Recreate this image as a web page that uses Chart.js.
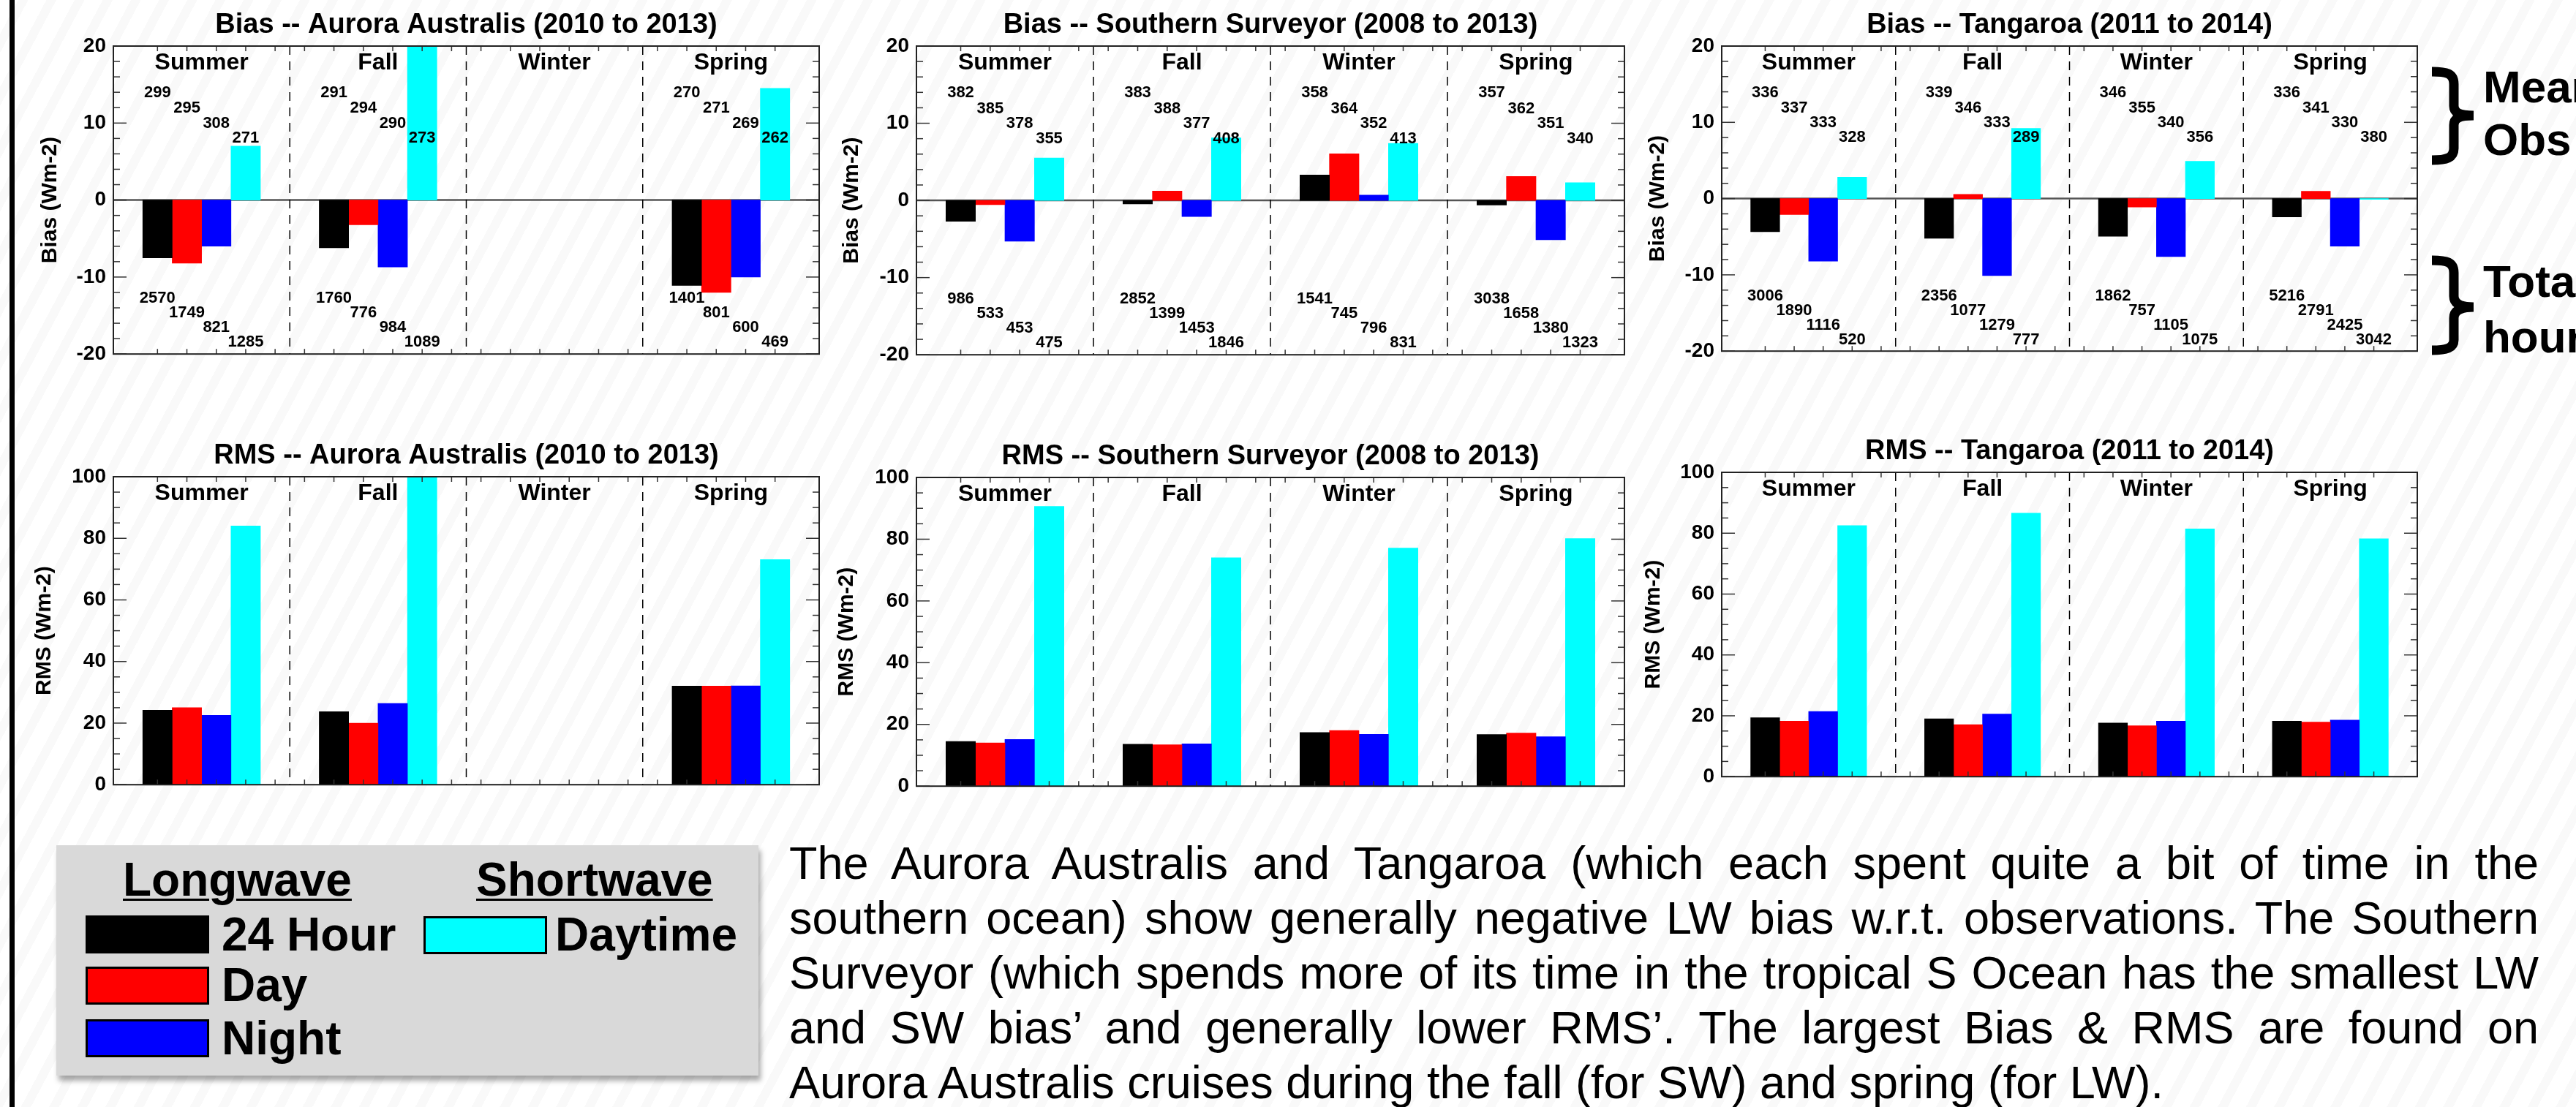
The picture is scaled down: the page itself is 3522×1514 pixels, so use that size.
<!DOCTYPE html>
<html>
<head>
<meta charset="utf-8">
<script src="https://cdn.jsdelivr.net/npm/chart.js@4.4.0/dist/chart.umd.min.js"></script>
<style>
  html, body { margin: 0; padding: 0; }
  body {
    width: 3522px; height: 1514px; overflow: hidden; position: relative;
    font-family: "Liberation Sans", Arial, Helvetica, sans-serif; color: #000;
    background: repeating-linear-gradient(118deg, rgba(0,0,0,0) 0 22px, rgba(0,0,0,0.025) 22px 34px), #fff;
  }
  .edge { position: absolute; left: 13px; top: 0; width: 7px; height: 1514px; background: #000; }
  .panel { position: absolute; }
  .legend {
    position: absolute; left: 77px; top: 1156px; width: 960px; height: 315px;
    background: #d9d9d9; box-shadow: 3px 7px 7px rgba(0,0,0,0.35);
  }
  .legend .hd, .legend .lb { position: absolute; font-weight: bold; font-size: 64px; line-height: 64px; white-space: nowrap; }
  .legend .hd { text-decoration: underline; text-decoration-thickness: 3px; text-underline-offset: 4px; }
  .legend .sw { position: absolute; width: 169px; height: 52px; box-sizing: border-box; border: 3px solid #000; }
  .para { position: absolute; left: 1079px; top: 1143px; width: 2392px; font-size: 63px; line-height: 75px; }
  .para .j { text-align: justify; text-align-last: justify; }
  .note { position: absolute; left: 3395px; font-weight: bold; font-size: 62px; line-height: 72px; white-space: nowrap; }
</style>
</head>
<body>
<div class="edge"></div>
<div id="panels"></div>

<div class="legend">
  <div class="hd" style="left:91px; top:15px;">Longwave</div>
  <div class="hd" style="left:574px; top:15px;">Shortwave</div>
  <div class="sw" style="left:40px; top:96px; background:#000000;"></div>
  <div class="lb" style="left:226px; top:90px;">24 Hour</div>
  <div class="sw" style="left:40px; top:166px; background:#ff0000;"></div>
  <div class="lb" style="left:226px; top:159px;">Day</div>
  <div class="sw" style="left:40px; top:238px; background:#0000ff;"></div>
  <div class="lb" style="left:226px; top:232px;">Night</div>
  <div class="sw" style="left:502px; top:97px; background:#00ffff;"></div>
  <div class="lb" style="left:682px; top:90px;">Daytime</div>
</div>

<div class="para">
  <div class="j">The Aurora Australis and Tangaroa (which each spent quite a bit of time in the</div>
  <div class="j">southern ocean) show generally negative LW bias w.r.t. observations. The Southern</div>
  <div class="j">Surveyor (which spends more of its time in the tropical S Ocean has the smallest LW</div>
  <div class="j">and SW bias’ and generally lower RMS’. The largest Bias &amp; RMS are found on</div>
  <div>Aurora Australis cruises during the fall (for SW) and spring (for LW).</div>
</div>

<svg style="position:absolute; left:3300px; top:0;" width="120" height="520">
  <path d="M25,98 C45,98 55,100 55,115 L55,145 C55,154 62,158 82,158 C62,158 55,162 55,171 L55,203 C55,216 45,219 25,219" fill="none" stroke="#000" stroke-width="13"/>
  <path d="M25,356 C45,356 55,358 55,373 L55,405 C55,414 62,420 82,420 C62,420 55,426 55,435 L55,465 C55,476 45,479 25,479" fill="none" stroke="#000" stroke-width="13"/>
</svg>
<div class="note" style="top:83px;">Mean<br>Obs</div>
<div class="note" style="top:347px; line-height:76px;">Total<br>hours</div>

<script>
  const SEASONS = ['Summer', 'Fall', 'Winter', 'Spring'];
  const SERIES = ['24 Hour', 'Day', 'Night', 'Daytime'];
  const SERIES_COLORS = ['#000000', '#ff0000', '#0000ff', '#00ffff'];

  // one row per season: [LW 24 Hour, LW Day, LW Night, SW Daytime]; null = no cruises
  const aaBias = [[-7.5, -8.2, -6.0, 7.0], [-6.2, -3.2, -8.7, 22], null, [-11.1, -12.0, -10.0, 14.5]];
  const aaObs = [[299, 295, 308, 271], [291, 294, 290, 273], null, [270, 271, 269, 262]];
  const aaHours = [[2570, 1749, 821, 1285], [1760, 776, 984, 1089], null, [1401, 801, 600, 469]];

  const ssBias = [[-2.7, -0.55, -5.3, 5.5], [-0.45, 1.2, -2.1, 8.1], [3.3, 6.05, 0.7, 7.4], [-0.6, 3.1, -5.1, 2.3]];
  const ssObs = [[382, 385, 378, 355], [383, 388, 377, 408], [358, 364, 352, 413], [357, 362, 351, 340]];
  const ssHours = [[986, 533, 453, 475], [2852, 1399, 1453, 1846], [1541, 745, 796, 831], [3038, 1658, 1380, 1323]];

  const tgBias = [[-4.35, -2.1, -8.2, 2.8], [-5.2, 0.55, -10.1, 9.2], [-4.95, -1.1, -7.6, 4.9], [-2.4, 0.95, -6.25, -0.1]];
  const tgObs = [[336, 337, 333, 328], [339, 346, 333, 289], [346, 355, 340, 356], [336, 341, 330, 380]];
  const tgHours = [[3006, 1890, 1116, 520], [2356, 1077, 1279, 777], [1862, 757, 1105, 1075], [5216, 2791, 2425, 3042]];

  const aaRms = [[24.2, 25.0, 22.5, 84.0], [23.7, 20.0, 26.4, 102], null, [32.0, 32.0, 32.1, 73.1]];
  const ssRms = [[14.5, 14.0, 15.1, 90.6], [13.6, 13.4, 13.7, 74.0], [17.4, 18.0, 16.8, 77.1], [16.7, 17.2, 16.0, 80.2]];
  const tgRms = [[19.4, 18.2, 21.4, 82.5], [19.0, 17.1, 20.6, 86.6], [17.6, 16.7, 18.2, 81.4], [18.2, 17.9, 18.6, 78.2]];

  // bar slots: 4 bars per season, seasons 6 slots apart, axis runs 0..23
  const slotOf = (season, k) => 1 + 6 * season + k;
  const DIVIDERS = [5.5, 11.5, 17.5];
  const OBS_LEVELS = [13.9, 11.9, 9.95, 8.0];
  const HOUR_LEVELS = [-12.8, -14.7, -16.6, -18.5];

  const FONT = '"Liberation Sans", Arial, Helvetica, sans-serif';
  Chart.defaults.font.family = FONT;
  Chart.defaults.color = '#000';

  const PANELS = [
    { title: 'Bias -- Aurora Australis (2010 to 2013)', yTitle: 'Bias (Wm-2)', rows: aaBias, obs: aaObs, hours: aaHours, min: -20, max: 20, major: 10, minor: 2, box: [155, 63, 1120, 496], gap: 46 },
    { title: 'Bias -- Southern Surveyor (2008 to 2013)', yTitle: 'Bias (Wm-2)', rows: ssBias, obs: ssObs, hours: ssHours, min: -20, max: 20, major: 10, minor: 2, box: [1253, 63, 2221, 497], gap: 44 },
    { title: 'Bias -- Tangaroa (2011 to 2014)', yTitle: 'Bias (Wm-2)', rows: tgBias, obs: tgObs, hours: tgHours, min: -20, max: 20, major: 10, minor: 2, box: [2354, 63, 3305, 492], gap: 45 },
    { title: 'RMS -- Aurora Australis (2010 to 2013)', yTitle: 'RMS (Wm-2)', rows: aaRms, min: 0, max: 100, major: 20, minor: 5, box: [155, 652, 1120, 1085], gap: 38 },
    { title: 'RMS -- Southern Surveyor (2008 to 2013)', yTitle: 'RMS (Wm-2)', rows: ssRms, min: 0, max: 100, major: 20, minor: 5, box: [1253, 653, 2221, 1087], gap: 37 },
    { title: 'RMS -- Tangaroa (2011 to 2014)', yTitle: 'RMS (Wm-2)', rows: tgRms, min: 0, max: 100, major: 20, minor: 5, box: [2354, 646, 3305, 1074], gap: 39 }
  ];

  function line(ctx, x1, y1, x2, y2) {
    ctx.beginPath(); ctx.moveTo(x1, y1); ctx.lineTo(x2, y2); ctx.stroke();
  }

  // IDL-style decorations: inward ticks on all sides, frame, season dividers, labels, counts
  const idlFrame = {
    id: 'idlFrame',
    beforeDatasetsDraw(chart) {
      const { ctx, chartArea: a, scales: { y } } = chart;
      if (y.min >= 0) return;
      ctx.save();
      ctx.strokeStyle = '#555'; ctx.lineWidth = 2.5;
      const py = y.getPixelForValue(0);
      line(ctx, a.left, py, a.right, py);
      ctx.restore();
    },
    afterDatasetsDraw(chart, args, o) {
      const { ctx, chartArea: a, scales: { x, y } } = chart;
      ctx.save();
      ctx.strokeStyle = '#000'; ctx.lineWidth = 1.5; ctx.setLineDash([12, 9]);
      DIVIDERS.forEach(v => { const px = x.getPixelForValue(v); line(ctx, px, a.top, px, a.bottom); });
      ctx.setLineDash([]);

      ctx.strokeStyle = '#333'; ctx.lineWidth = 1.5;
      for (let v = y.min; v <= y.max + 1e-6; v += o.minor) {
        const py = y.getPixelForValue(v);
        const len = Math.abs(v % o.major) < 1e-6 ? 18 : 9;
        line(ctx, a.left, py, a.left + len, py);
        line(ctx, a.right - len, py, a.right, py);
      }
      for (let v = 1; v < x.max; v++) {
        const px = x.getPixelForValue(v);
        line(ctx, px, a.bottom, px, a.bottom - 7);
        line(ctx, px, a.top, px, a.top + 7);
      }
      ctx.strokeStyle = '#222'; ctx.lineWidth = 2;
      ctx.strokeRect(a.left, a.top, a.right - a.left, a.bottom - a.top);

      ctx.fillStyle = '#000'; ctx.textAlign = 'center'; ctx.textBaseline = 'middle';
      ctx.font = 'bold 32px ' + FONT;
      SEASONS.forEach((s, i) => ctx.fillText(s, x.getPixelForValue(slotOf(i, 1.5)), a.top + 23));

      ctx.font = 'bold 22px ' + FONT;
      const drawCounts = (table, levels) => {
        if (!table) return;
        table.forEach((row, i) => {
          if (!row) return;
          row.forEach((n, k) => ctx.fillText(String(n), x.getPixelForValue(slotOf(i, k)), y.getPixelForValue(levels[k])));
        });
      };
      drawCounts(o.obs, OBS_LEVELS);
      drawCounts(o.hours, HOUR_LEVELS);
      ctx.restore();
    }
  };

  const holder = document.getElementById('panels');
  PANELS.forEach((p, idx) => {
    const [L, T, R, B] = p.box;
    const div = document.createElement('div');
    div.className = 'panel';
    div.style.left = (L - 150) + 'px';
    div.style.top = (T - 65) + 'px';
    div.style.width = (R - L + 165) + 'px';
    div.style.height = (B - T + 80) + 'px';
    const canvas = document.createElement('canvas');
    canvas.id = 'panel' + idx;
    div.appendChild(canvas);
    holder.appendChild(div);

    const datasets = SERIES.map((name, k) => ({
      label: name,
      data: SEASONS.map((s, i) => ({ x: slotOf(i, k), y: p.rows[i] ? p.rows[i][k] : null })),
      backgroundColor: SERIES_COLORS[k],
      borderWidth: 0,
      grouped: false,
      barPercentage: 1,
      categoryPercentage: 1
    }));

    new Chart(canvas, {
      type: 'bar',
      data: { datasets },
      options: {
        responsive: true,
        maintainAspectRatio: false,
        animation: false,
        devicePixelRatio: 1,
        layout: { padding: { left: 0, right: 15, top: 0, bottom: 15 }, autoPadding: false },
        plugins: {
          legend: { display: false },
          tooltip: { enabled: false },
          title: {
            display: true, text: p.title, color: '#000', fullSize: false,
            font: { size: 38, weight: 'bold' },
            padding: { top: 14, bottom: 5.4 }
          },
          idlFrame: { obs: p.obs, hours: p.hours, major: p.major, minor: p.minor }
        },
        scales: {
          x: { type: 'linear', min: 0, max: 23, display: false, ticks: { stepSize: 1 } },
          y: {
            min: p.min, max: p.max,
            grid: { display: false, drawTicks: false },
            border: { display: false },
            ticks: { stepSize: p.major, color: '#000', font: { size: 28, weight: 'bold' }, padding: 10 },
            title: {
              display: true, text: p.yTitle, color: '#000',
              font: { size: 30, weight: 'bold' },
              padding: { top: p.gap, bottom: 0 }
            },
            afterFit: (scale) => { scale.width = 150; }
          }
        }
      },
      plugins: [idlFrame]
    });
  });
</script>
</body>
</html>
